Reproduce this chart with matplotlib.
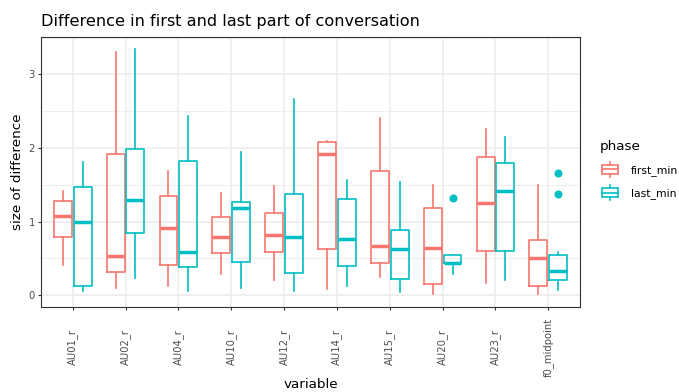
import numpy as np
import matplotlib
matplotlib.use('Agg')
import matplotlib.pyplot as plt
from matplotlib.patches import Rectangle
from matplotlib.lines import Line2D
from matplotlib.legend_handler import HandlerBase

# values (quartiles / whisker ends per variable)
categories = ['AU01_r', 'AU02_r', 'AU04_r', 'AU10_r', 'AU12_r',
              'AU14_r', 'AU15_r', 'AU20_r', 'AU23_r', 'f0_midpoint']

first_whislo = [0.41, 0.10, 0.12, 0.28, 0.20, 0.08, 0.24, 0.01, 0.16, 0.01]
first_q1 = [0.79, 0.31, 0.41, 0.57, 0.58, 0.62, 0.43, 0.15, 0.60, 0.12]
first_med = [1.08, 0.53, 0.91, 0.79, 0.82, 1.92, 0.67, 0.64, 1.25, 0.50]
first_q3 = [1.28, 1.92, 1.35, 1.06, 1.11, 2.08, 1.69, 1.18, 1.88, 0.75]
first_whishi = [1.42, 3.31, 1.69, 1.39, 1.48, 2.10, 2.41, 1.50, 2.26, 1.49]
first_fliers = [[], [], [], [], [], [], [], [], [], []]

last_whislo = [0.05, 0.23, 0.05, 0.09, 0.05, 0.12, 0.04, 0.28, 0.20, 0.07]
last_q1 = [0.12, 0.84, 0.38, 0.45, 0.30, 0.39, 0.22, 0.43, 0.60, 0.20]
last_med = [0.99, 1.29, 0.59, 1.18, 0.79, 0.76, 0.62, 0.44, 1.42, 0.32]
last_q3 = [1.47, 1.99, 1.82, 1.26, 1.37, 1.30, 0.89, 0.54, 1.80, 0.54]
last_whishi = [1.81, 3.35, 2.44, 1.94, 2.67, 1.57, 1.54, 0.54, 2.15, 0.59]
last_fliers = [[], [], [], [], [], [], [], [1.32], [], [1.66, 1.37]]

phases = ['first_min', 'last_min']
colors = ['#F8766D', '#00BFC4']

plt.rcParams['font.family'] = 'DejaVu Sans'

def make_stats(lo, q1, med, q3, hi, fl):
    return [dict(whislo=a, q1=b, med=c, q3=d, whishi=e, fliers=f)
            for a, b, c, d, e, f in zip(lo, q1, med, q3, hi, fl)]

stats = [
    make_stats(first_whislo, first_q1, first_med, first_q3, first_whishi, first_fliers),
    make_stats(last_whislo, last_q1, last_med, last_q3, last_whishi, last_fliers),
]

fig = plt.figure(figsize=(6.79, 3.92), dpi=100)
ax = fig.add_axes([41 / 679, 1 - 307 / 392, 539 / 679, 270 / 392])

x = np.arange(1, len(categories) + 1)
offsets = [-0.1875, 0.1875]
lw = 1.2
for st, off, col in zip(stats, offsets, colors):
    ax.bxp(st, positions=x + off, widths=0.34, showcaps=False, patch_artist=False,
           boxprops=dict(color=col, lw=lw),
           whiskerprops=dict(color=col, lw=lw),
           medianprops=dict(color=col, lw=2.5, solid_capstyle='butt'),
           flierprops=dict(marker='o', markerfacecolor=col, markeredgecolor=col,
                           markersize=4.8, linestyle='none'),
           manage_ticks=False, zorder=3)

ax.set_xlim(0.4, len(categories) + 0.6)
ax.set_ylim(-0.163, 3.51)
ax.set_xticks(x)
ax.set_xticklabels(categories, rotation=90, ha='center', va='center')
ax.set_yticks([0, 1, 2, 3])
ax.set_yticks([0.5, 1.5, 2.5, 3.5], minor=True)
ax.grid(True, which='major', color='#EBEBEB', lw=1.1, zorder=0)
ax.grid(True, which='minor', axis='y', color='#EBEBEB', lw=0.6, zorder=0)
ax.set_axisbelow(True)
ax.tick_params(axis='both', which='major', length=2.5, width=0.8, color='#333333',
               labelsize=7.2, labelcolor='#4D4D4D')
ax.tick_params(axis='x', pad=26.5)
ax.tick_params(axis='y', pad=2)
ax.tick_params(which='minor', length=0)
for s in ax.spines.values():
    s.set_color('#333333')
    s.set_linewidth(0.8)

ax.set_title('Difference in first and last part of conversation', loc='left',
             fontsize=11.6, pad=8)
ax.set_ylabel('size of difference', fontsize=9.7, labelpad=3)
ax.set_xlabel('variable', fontsize=9.7, labelpad=1)


class BoxHandler(HandlerBase):
    def create_artists(self, legend, orig_handle, xdescent, ydescent, width,
                       height, fontsize, trans):
        col = orig_handle.get_color()
        cx = -xdescent + width / 2
        bw = width * 0.8
        h = height * 1.3
        y0 = -ydescent + height / 2 - h / 2
        box = Rectangle((cx - bw / 2, y0 + h * 0.2), bw, h * 0.6, fill=False,
                        edgecolor=col, lw=lw, transform=trans)
        med = Line2D([cx - bw / 2, cx + bw / 2], [y0 + h / 2, y0 + h / 2],
                     color=col, lw=lw, transform=trans)
        w1 = Line2D([cx, cx], [y0, y0 + h * 0.2], color=col, lw=lw, transform=trans)
        w2 = Line2D([cx, cx], [y0 + h * 0.8, y0 + h], color=col, lw=lw, transform=trans)
        return [box, med, w1, w2]


handles = [Line2D([], [], color=c) for c in colors]
leg = fig.legend(handles, phases, handler_map={Line2D: BoxHandler()},
                 loc='upper left', bbox_to_anchor=(592 / 679, 1 - 132 / 392),
                 frameon=False, title='phase', fontsize=7.8, title_fontsize=9.7,
                 alignment='left', handlelength=1.9, handleheight=1.3,
                 labelspacing=1.0, handletextpad=1.0, borderpad=0.2)

fig.savefig('out.png', dpi=100)
